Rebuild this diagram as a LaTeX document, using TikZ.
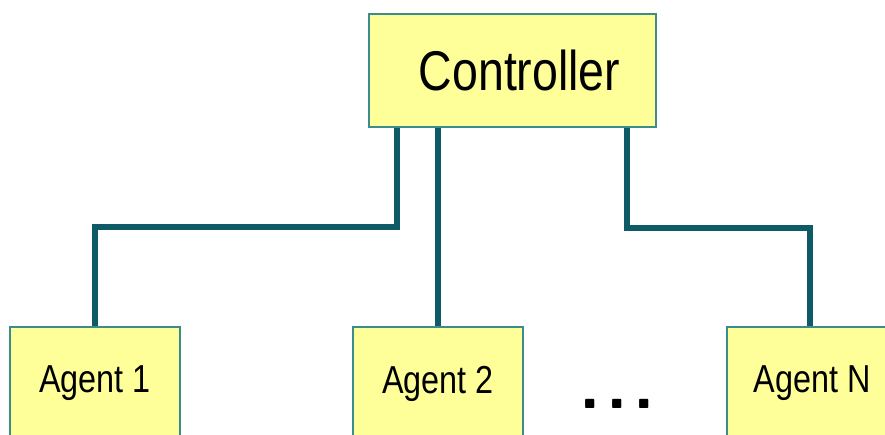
\documentclass[tikz,border=0pt]{standalone}
\usepackage{fontspec}
\newfontfamily\boxfont[FakeStretch=0.83]{Liberation Sans}
\usetikzlibrary{positioning}
\definecolor{boxfill}{HTML}{FFFF99}
\definecolor{boxline}{HTML}{3C8C8C}
\definecolor{wirecol}{HTML}{0E5A66}

\begin{document}
\begin{tikzpicture}[
    x=1pt, y=-1pt,
    unit/.style={draw=boxline, fill=boxfill, rectangle, line width=2pt, minimum width=170pt, minimum height=113pt, inner sep=0pt, font=\boxfont\fontsize{39}{44}\selectfont},
    ctrlbox/.style={unit, minimum width=287pt, font=\boxfont\fontsize{56}{62}\selectfont},
    wire/.style={draw=wirecol, line width=6pt}
]
    \useasboundingbox (0,0) rectangle (885,435);
    \clip (0,0) rectangle (885,435);

    % Nodes
    \node[ctrlbox] (ctrl) at (512.5,70.5) {\hspace*{14pt}Controller};
    \node[unit] (agent1) at (95,383.5) {Agent 1};
    \node[unit] (agent2) at (438,383.5) {Agent 2};
    \node[unit] (agentN) at (812,383.5) {Agent N};
    \node[anchor=base, inner sep=0pt, font=\sffamily\bfseries\fontsize{70}{70}\selectfont] (dots) at (617,408) {.\kern5.5pt.\kern5.5pt.};

    % Links
    \draw[wire] ([xshift=-115.5pt]ctrl.south) -- ++(0,99) -| (agent1.north);
    \draw[wire] (ctrl.south -| agent2.north) -- (agent2.north);
    \draw[wire] ([xshift=114.5pt]ctrl.south) -- ++(0,100) -| ([xshift=-2pt]agentN.north);

\end{tikzpicture}
\end{document}
